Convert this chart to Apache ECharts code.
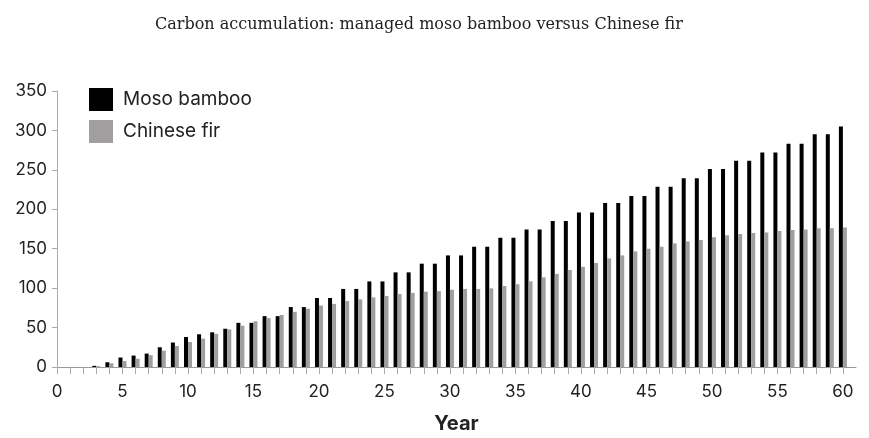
<!DOCTYPE html>
<html>
<head>
<meta charset="utf-8">
<script src="https://cdn.jsdelivr.net/npm/echarts@6/dist/echarts.min.js"></script>
<style>html,body{margin:0;padding:0;background:#fff}#c{width:869px;height:438px}</style>
</head>
<body>
<div id="c"></div>
<script>
const years = [];
for (let i = 0; i <= 60; i++) years.push(i);
const bamboo = [0,0,0,1.5,6,12,14.5,17,25,31,38,41.5,44,48.5,56,56,64.5,64.5,76,76,87.5,87.5,99,99,108.5,108.5,120,120,131,131,141.5,141.5,152.5,152.5,164,164,174.5,174.5,185,185,196,196,208,208,217,217,228.5,228.5,239.5,239.5,251,251,261.5,261.5,272,272,283,283,295,295,305];
const fir = [0,0,0,1,4.7,7.5,10.5,15,20.7,26.6,31.7,36,42,47.7,52.4,58,62,66,70,74,78,80,83.6,85.8,88.3,90,92.5,94,95.5,96.3,98,99,99,99.7,102.7,105,108.6,113.7,118,123,127,132,137.7,141.5,146.6,150,152.5,156.7,159.3,161,164.4,167,168.6,170,170.7,172.4,173.6,174.5,176,176,177];
const xLabels = [0,5,10,15,20,25,30,35,40,45,50,55,60];
const seriesNames = ['Moso bamboo','Chinese fir'];
const titleText = 'Carbon accumulation: managed moso bamboo versus Chinese fir';
const xName = 'Year';

const chart = echarts.init(document.getElementById('c'), null, {renderer:'canvas'});
const font = 'Inter, "Open Sans", sans-serif';
chart.setOption({
  animation: false,
  title: {
    text: titleText, left: 150, top: 12,
    textStyle: {fontFamily: '"DejaVu Serif", serif', fontSize: 16, fontWeight: 'normal', color: '#222'}
  },
  legend: {
    orient: 'vertical', left: 89, top: 88, padding: 0, itemWidth: 24, itemHeight: 23, itemGap: 9,
    icon: 'rect',
    textStyle: {fontFamily: font, fontSize: 19, color: '#222', padding: [0,0,0,5]},
    data: seriesNames
  },
  grid: {left: 57, right: 13, top: 91, bottom: 71, containLabel: false, outerBoundsMode: 'none'},
  xAxis: {
    type: 'value', min: 0, max: 61, interval: 1,
    name: xName, nameLocation: 'middle', nameGap: 47,
    nameTextStyle: {fontFamily: font, fontSize: 20, fontWeight: 'bold', color: '#222'},
    splitLine: {show: false},
    axisLine: {show: true, lineStyle: {color: '#999', width: 1}},
    axisTick: {show: true, length: 7, lineStyle: {color: '#aaa'}, customValues: years},
    axisLabel: {customValues: xLabels, margin: 16, fontFamily: font, fontSize: 17, color: '#222'}
  },
  yAxis: {
    type: 'value', min: 0, max: 350, interval: 50,
    splitLine: {show: false},
    axisLine: {show: true, lineStyle: {color: '#aaa', width: 1}},
    axisTick: {show: true, length: 5, lineStyle: {color: '#aaa'}},
    axisLabel: {margin: 10, fontFamily: font, fontSize: 17, color: '#222'}
  },
  series: [
    {name: seriesNames[0], type: 'bar', barWidth: 4, barGap: '0%', itemStyle: {color: '#000'},
     data: years.map((y, i) => [y, bamboo[i]])},
    {name: seriesNames[1], type: 'bar', barWidth: 4, barGap: '0%', itemStyle: {color: '#a09e9e'},
     data: years.map((y, i) => [y, fir[i]])}
  ]
});
</script>
</body>
</html>
